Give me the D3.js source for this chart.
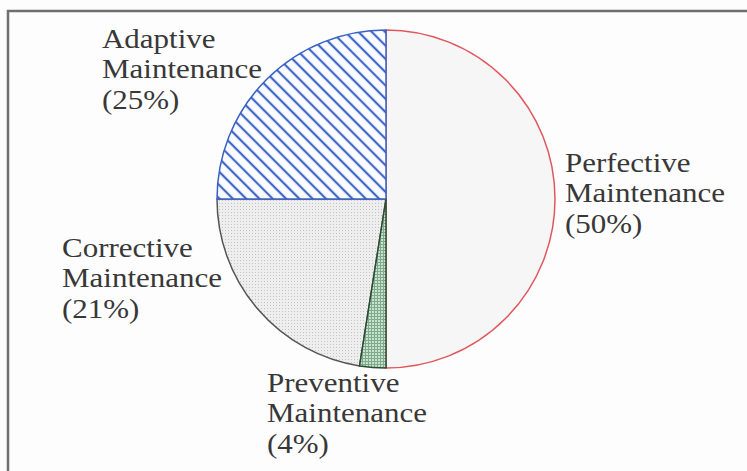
<!DOCTYPE html>
<html>
<head>
<meta charset="utf-8">
<script src="https://cdn.jsdelivr.net/npm/d3@7"></script>
<style>
  html, body { margin: 0; padding: 0; background: #ffffff; }
  svg { display: block; }
  .lbl { font-family: "Liberation Serif", Tinos, "Times New Roman", Times, "Nimbus Roman", "DejaVu Serif", serif; }
</style>
</head>
<body>
<svg id="chart" width="747" height="471"></svg>
<script>
// ---- data ----
const categories = ["Perfective", "Preventive", "Corrective", "Adaptive"];
// slice shares as drawn in the picture (clockwise from 12 o'clock)
const shares = [50, 2.5, 22.5, 25];
// percentages printed in the labels
const labelPercents = ["50%", "4%", "21%", "25%"];
const labelLine2 = "Maintenance";

// ---- styles ----
const strokes = { Perfective: "#e0585e", Preventive: "#2d4a33", Corrective: "#555555", Adaptive: "#3a62c4" };
const labelPos = {
  Perfective: [565, 172],
  Preventive: [267, 392],
  Corrective: [62, 257],
  Adaptive: [102, 48]
};

const svg = d3.select("#chart");
const W = 747, H = 471;
svg.append("rect").attr("width", W).attr("height", H).attr("fill", "#fdfdfd");

const defs = svg.append("defs");
const hatch = defs.append("pattern").attr("id", "hatch").attr("patternUnits", "userSpaceOnUse")
  .attr("width", 9.4).attr("height", 9.4).attr("patternTransform", "rotate(45)");
hatch.append("rect").attr("width", 9.4).attr("height", 9.4).attr("fill", "#fbfcff");
hatch.append("line").attr("x1", 0).attr("x2", 9.4).attr("y1", 4.7).attr("y2", 4.7)
  .attr("stroke", "#3f66c8").attr("stroke-width", 2.2);
const dots = defs.append("pattern").attr("id", "dots").attr("patternUnits", "userSpaceOnUse")
  .attr("width", 3).attr("height", 3);
dots.append("rect").attr("width", 3).attr("height", 3).attr("fill", "#eeeeee");
dots.append("rect").attr("x", 1).attr("y", 1).attr("width", 1).attr("height", 1).attr("fill", "#c4c4c4");
const cross = defs.append("pattern").attr("id", "cross").attr("patternUnits", "userSpaceOnUse")
  .attr("width", 3).attr("height", 3);
cross.append("rect").attr("width", 3).attr("height", 3).attr("fill", "#c9e2cf");
cross.append("rect").attr("x", 0).attr("y", 0).attr("width", 3).attr("height", 1).attr("fill", "#7faa8a");
cross.append("rect").attr("x", 0).attr("y", 0).attr("width", 1).attr("height", 3).attr("fill", "#7faa8a");

const fills = { Perfective: "#f6f6f6", Preventive: "url(#cross)", Corrective: "url(#dots)", Adaptive: "url(#hatch)" };

svg.append("path").attr("d", `M8,${H} L8,11 L${W},11`).attr("fill", "none")
  .attr("stroke", "#707070").attr("stroke-width", 2.5);

const cx = 386, cy = 199, R = 169;
const pie = d3.pie().sort(null).value(d => d.v);
const arcs = pie(categories.map((c, i) => ({ c, v: shares[i] })));
const arc = d3.arc().innerRadius(0).outerRadius(R);

const g = svg.append("g").attr("transform", `translate(${cx},${cy})`);
const order = ["Perfective", "Corrective", "Preventive", "Adaptive"];
order.forEach(name => {
  const a = arcs.find(d => d.data.c === name);
  g.append("path").attr("d", arc(a)).attr("fill", fills[name])
    .attr("stroke", strokes[name]).attr("stroke-width", 1.5).attr("stroke-linejoin", "round");
});

const FS = 27.5, LH = 30.5, SX = 1.127;
categories.forEach((c, i) => {
  const [x, y] = labelPos[c];
  const lg = svg.append("g").attr("transform", `translate(${x},${y}) scale(${SX},1)`);
  const t = lg.append("text").attr("class", "lbl").attr("x", 0).attr("y", 0)
    .attr("font-size", FS).attr("fill", "#383838");
  [c, labelLine2, "(" + labelPercents[i] + ")"].forEach((s, k) => {
    t.append("tspan").attr("x", 0).attr("dy", k === 0 ? 0 : LH).text(s);
  });
});
</script>
</body>
</html>
